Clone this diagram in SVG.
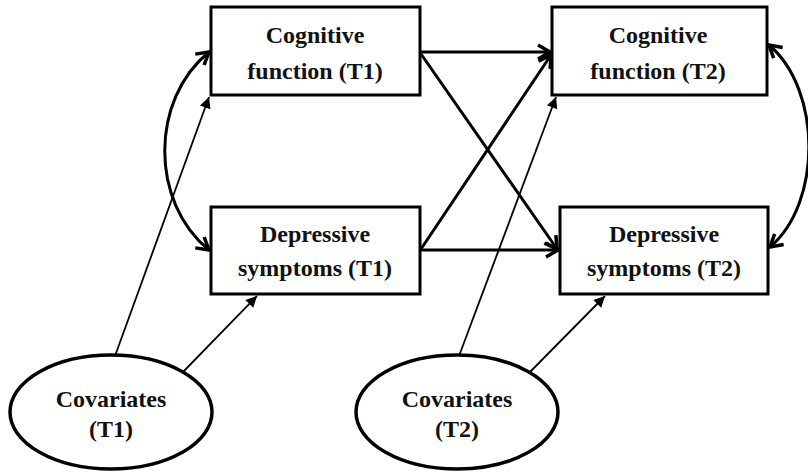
<svg xmlns="http://www.w3.org/2000/svg" width="808" height="476" viewBox="0 0 808 476">
<style>
  .box { fill: #fff; stroke: #000; stroke-width: 3; }
  .ell { fill: #fff; stroke: #000; stroke-width: 3.5; }
  .lbl { font-weight: 700; font-size: 24px; fill: #111; text-anchor: middle; }
  .thick { fill: none; stroke: #000; stroke-width: 3; }
  .thin { fill: none; stroke: #000; stroke-width: 1.8; }
</style>
<defs>
  <marker id="open" markerUnits="userSpaceOnUse" markerWidth="20" markerHeight="20" viewBox="-14 -10 16 20" refX="0" refY="0" orient="auto-start-reverse">
    <path d="M -12 -7 L 0 0 L -12 7" fill="none" stroke="#000" stroke-width="3.5" stroke-linejoin="miter"/>
  </marker>
  <marker id="fill" markerUnits="userSpaceOnUse" markerWidth="16" markerHeight="16" viewBox="-12 -8 14 16" refX="0" refY="0" orient="auto">
    <path d="M -11 -5.5 L 0 0 L -11 5.5 Z" fill="#000"/>
  </marker>
</defs>
<rect width="808" height="476" fill="#fff"/>
<g id="connectors">
  <path class="thick" d="M 421 52 L 550 52" marker-end="url(#open)"/>
  <path class="thick" d="M 421 54 L 557 249" marker-end="url(#open)"/>
  <path class="thick" d="M 421 249 L 551 55" marker-end="url(#open)"/>
  <path class="thick" d="M 421 250 L 558 250" marker-end="url(#open)"/>
  <path class="thick" d="M 209 52 C 150 100, 150 202, 209 250" marker-start="url(#open)" marker-end="url(#open)"/>
  <path class="thick" d="M 769 45 C 822 90, 822 203, 770 247" marker-start="url(#open)" marker-end="url(#open)"/>
  <path class="thin" d="M 115 356 L 209 97" marker-end="url(#fill)"/>
  <path class="thin" d="M 183 372 L 257 296" marker-end="url(#fill)"/>
  <path class="thin" d="M 459 356 L 556 97" marker-end="url(#fill)"/>
  <path class="thin" d="M 530 372 L 605 296" marker-end="url(#fill)"/>
</g>
<g font-family="Liberation Serif, Times New Roman, serif">
<g id="cf1">
  <rect class="box" x="211" y="7" width="209" height="88"/>
  <text class="lbl" x="315" y="43">Cognitive</text>
  <text class="lbl" x="315" y="79">function (T1)</text>
</g>
<g id="cf2">
  <rect class="box" x="552" y="7" width="215" height="88"/>
  <text class="lbl" x="658" y="43">Cognitive</text>
  <text class="lbl" x="658" y="79">function (T2)</text>
</g>
<g id="ds1">
  <rect class="box" x="211" y="207" width="209" height="87"/>
  <text class="lbl" x="315" y="242">Depressive</text>
  <text class="lbl" x="315" y="276">symptoms (T1)</text>
</g>
<g id="ds2">
  <rect class="box" x="560" y="207" width="208" height="87"/>
  <text class="lbl" x="664" y="242">Depressive</text>
  <text class="lbl" x="664" y="276">symptoms (T2)</text>
</g>
<g id="cov1">
  <ellipse class="ell" cx="111" cy="412" rx="101" ry="57"/>
  <text class="lbl" x="111" y="407">Covariates</text>
  <text class="lbl" x="111" y="437">(T1)</text>
</g>
<g id="cov2">
  <ellipse class="ell" cx="457" cy="412" rx="101" ry="57"/>
  <text class="lbl" x="457" y="407">Covariates</text>
  <text class="lbl" x="457" y="437">(T2)</text>
</g>
</g>
</svg>
